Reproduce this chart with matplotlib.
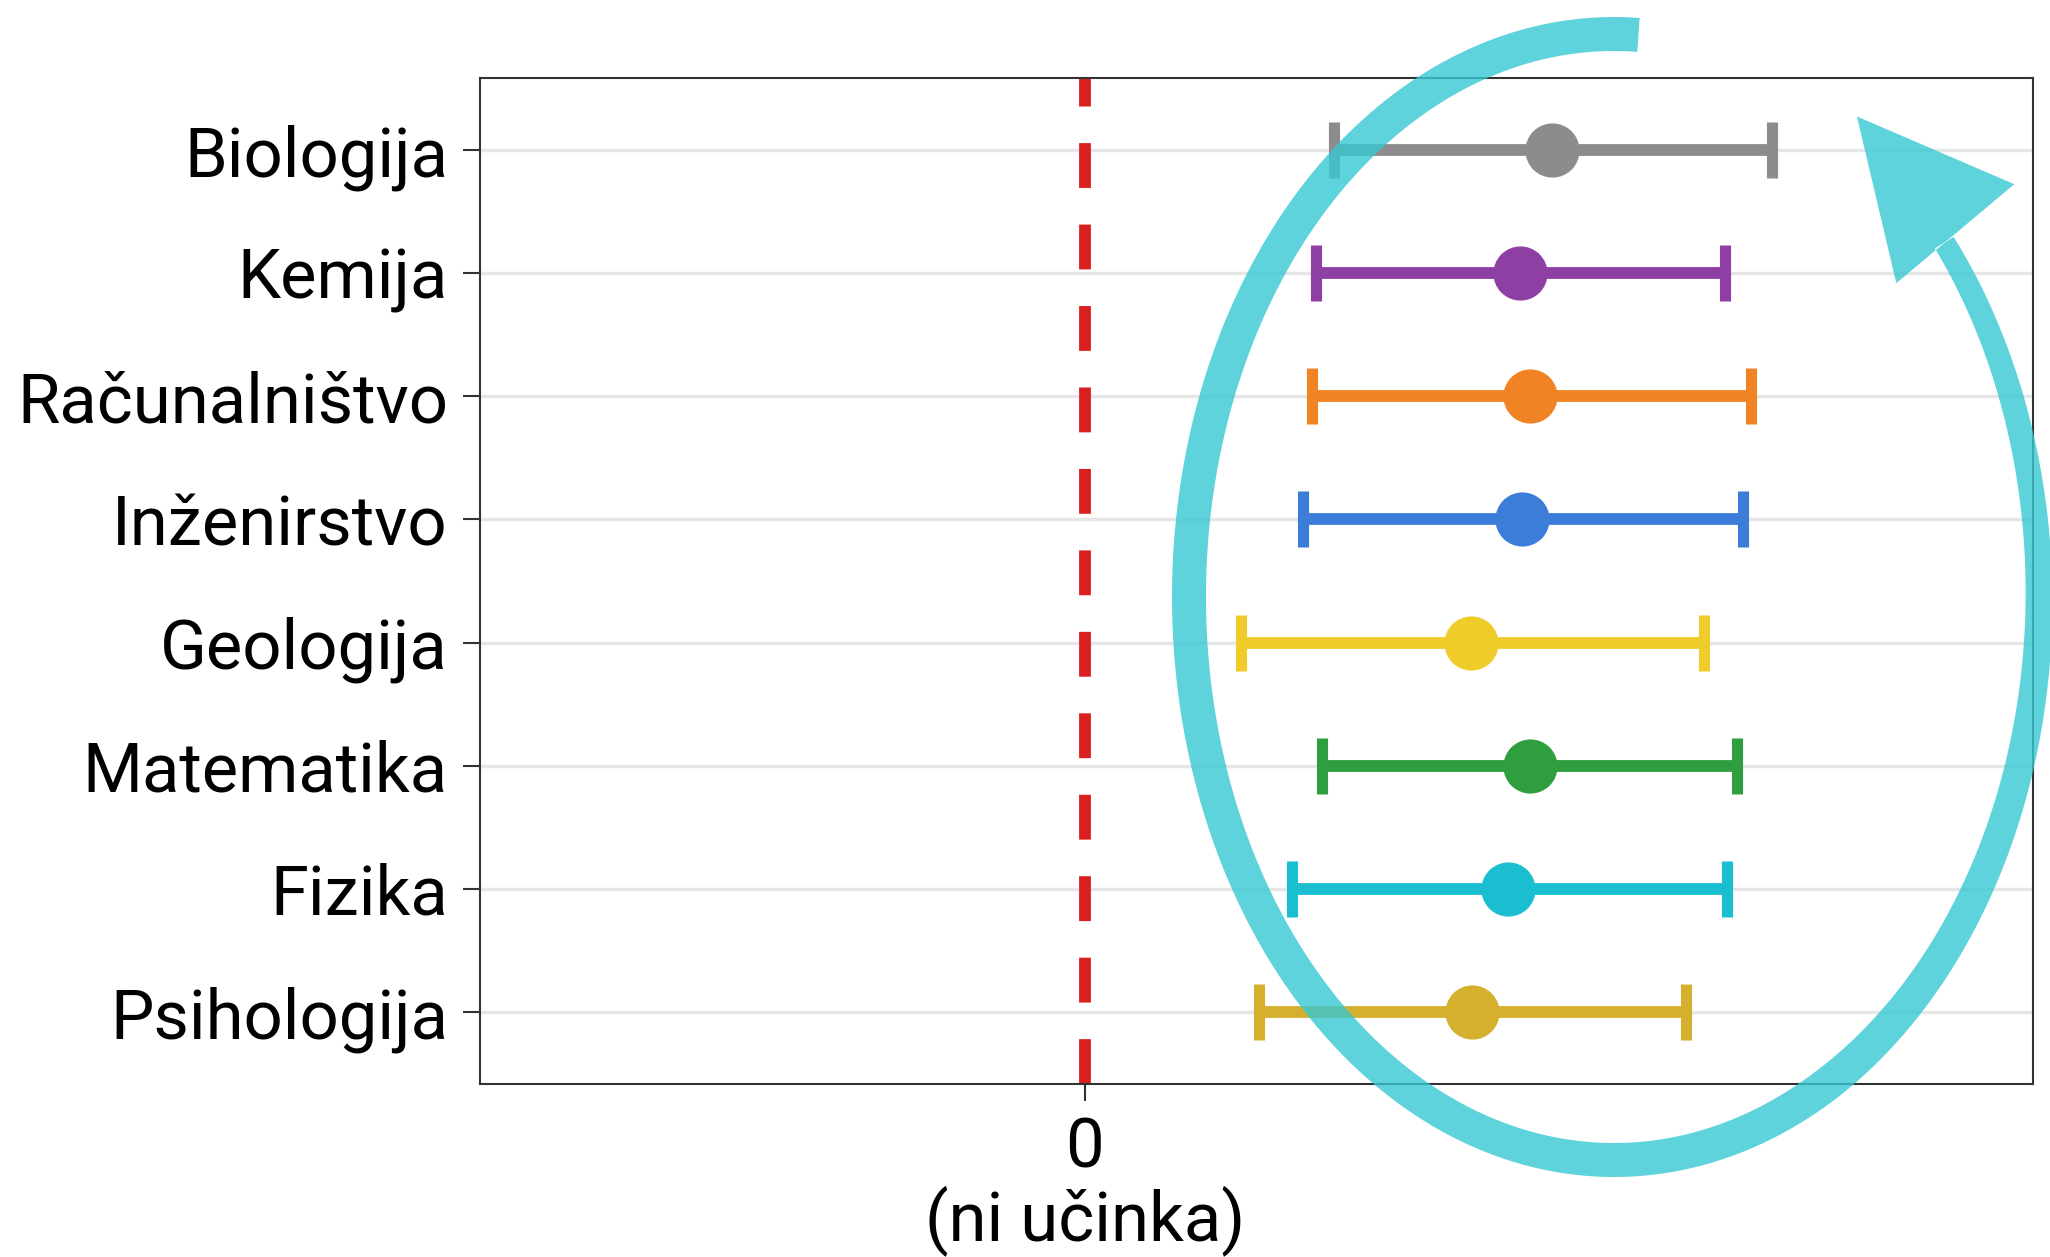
import numpy as np
import matplotlib.pyplot as plt
from matplotlib.path import Path
from matplotlib.patches import PathPatch

plt.rcParams['font.family'] = ['Roboto', 'DejaVu Sans']

# data (effect size with confidence interval, per field)
subjects = ['Biologija', 'Kemija', 'Računalništvo', 'Inženirstvo',
            'Geologija', 'Matematika', 'Fizika', 'Psihologija']
effect = [0.389, 0.363, 0.371, 0.364, 0.322, 0.371, 0.353, 0.3225]
ci_low = [0.2075, 0.193, 0.189, 0.182, 0.130, 0.1975, 0.1725, 0.145]
ci_high = [0.5725, 0.533, 0.555, 0.548, 0.516, 0.543, 0.535, 0.501]
colors = ['#8c8c8c', '#8e3fa3', '#f08424', '#3b7dd8',
          '#f0cc2a', '#2e9e3e', '#19bfd0', '#d4b02e']
xticks = [0]
xticklabels = ['0\n(ni učinka)']

fig = plt.figure(figsize=(20.5, 12.57), dpi=100)
ax = fig.add_axes([0.2341, 0.1376, 0.7576, 0.8003])

ypos = np.arange(len(subjects))[::-1] + 1

ax.axvline(0, color='#d9201f', lw=8.5, ls=(0, (3.8, 3.1)), zorder=2)

for i in range(len(subjects)):
    err = [[effect[i] - ci_low[i]], [ci_high[i] - effect[i]]]
    ax.errorbar(effect[i], ypos[i], xerr=err, fmt='o', color=colors[i],
                ms=38, elinewidth=8.5, capsize=20, capthick=8, zorder=3)

ax.set_xlim(-0.504, 0.79)
ax.set_ylim(0.415, 8.585)
ax.set_yticks(ypos)
ax.set_yticklabels(subjects, fontsize=49.5)
ax.set_xticks(xticks)
ax.set_xticklabels(xticklabels, fontsize=49.5, linespacing=1.05)
ax.tick_params(length=12, width=1.5, color='#333333', pad=11)
ax.set_axisbelow(True)
ax.grid(axis='y', color='#e6e6e6', lw=2.5)
for s in ax.spines.values():
    s.set_color('#333333')
    s.set_linewidth(1.5)

# hand-drawn style cyan loop arrow, in figure pixels
ann = fig.add_axes([0, 0, 1, 1])
ann.set_xlim(0, 2050)
ann.set_ylim(1257, 0)
ann.axis('off')
cx, cy, rx, ry = 1614, 597, 425, 563
t0, t1 = 86.7, 399.0
tdeg = np.linspace(t0, t1, 500)
t = np.radians(tdeg)
px = cx + rx * np.cos(t)
py = cy - ry * np.sin(t)
w = np.where(tdeg < 300, 34, 34 - (tdeg - 300) / (t1 - 300) * 12)
dx, dy = np.gradient(px), np.gradient(py)
n = np.hypot(dx, dy)
nx, ny = -dy / n, dx / n
outer = np.column_stack([px + nx * w / 2, py + ny * w / 2])
inner = np.column_stack([px - nx * w / 2, py - ny * w / 2])
band = np.vstack([outer, inner[::-1], outer[:1]])

ang = np.radians(130)
d = np.array([np.cos(ang), -np.sin(ang)])
perp = np.array([-d[1], d[0]])
end = np.array([px[-1], py[-1]]) + np.array([11, -9])
head = np.array([end + 153 * d, end + 77 * perp, end - 77 * perp, end + 153 * d])

verts = np.vstack([band, head])
codes = ([Path.MOVETO] + [Path.LINETO] * (len(band) - 2) + [Path.CLOSEPOLY] +
         [Path.MOVETO, Path.LINETO, Path.LINETO, Path.CLOSEPOLY])
ann.add_patch(PathPatch(Path(verts, codes), fc='#37c8d2', ec='none', alpha=0.8))

fig.savefig('out.png', dpi=100, facecolor='white')
